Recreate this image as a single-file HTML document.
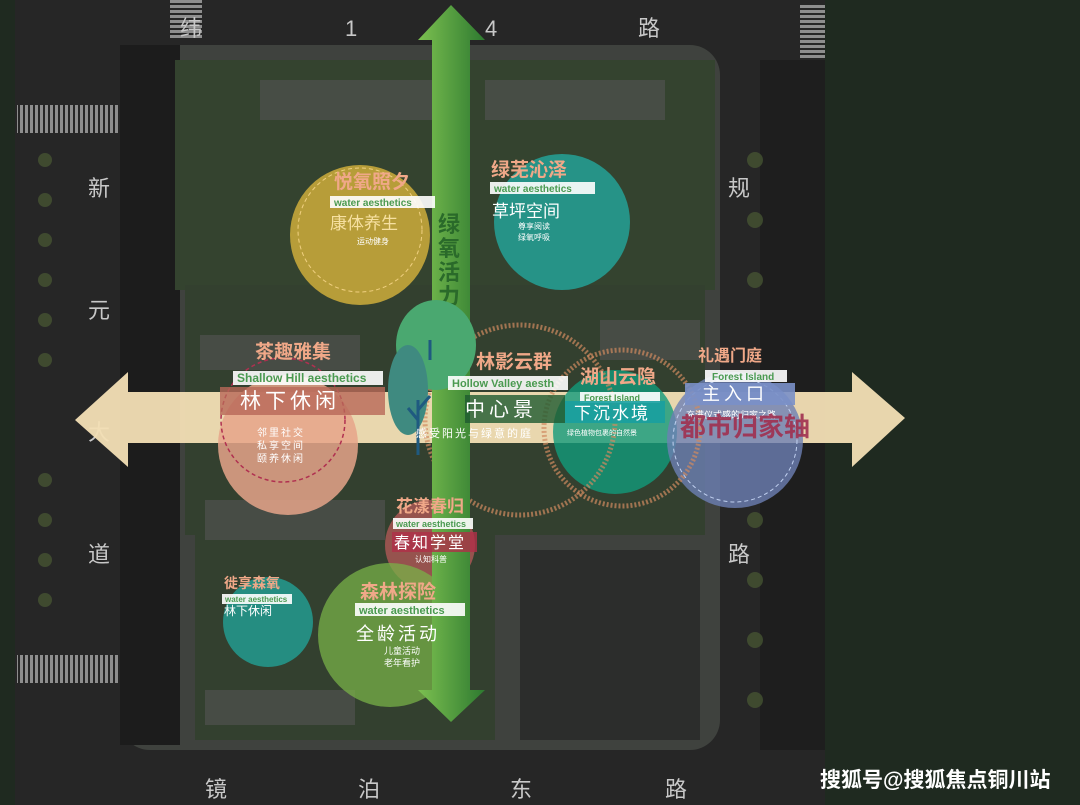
<!DOCTYPE html>
<html><head><meta charset="utf-8"><style>
html,body{margin:0;padding:0;background:#1f2a20;}
svg{display:block}
text{font-family:"Liberation Sans","Noto Sans CJK SC",sans-serif;}
</style></head><body>
<svg width="1080" height="805" viewBox="0 0 1080 805" xmlns="http://www.w3.org/2000/svg">
<defs>
<linearGradient id="ga" x1="0" y1="0" x2="1" y2="0"><stop offset="0" stop-color="#7cc050"/><stop offset="1" stop-color="#2e7a30"/></linearGradient>
<pattern id="cw" width="5" height="5" patternUnits="userSpaceOnUse"><rect width="3" height="5" fill="#bbb"/></pattern>
<pattern id="cwh" width="5" height="5" patternUnits="userSpaceOnUse"><rect width="5" height="3" fill="#bbb"/></pattern>
</defs>
<rect width="1080" height="805" fill="#1f2a20"/>
<rect x="15" y="0" width="810" height="805" fill="#262626"/>
<!-- crosswalks -->
<rect x="170" y="0" width="32" height="40" fill="url(#cwh)" opacity=".7"/>
<rect x="800" y="5" width="25" height="60" fill="url(#cwh)" opacity=".7"/>
<rect x="17" y="105" width="102" height="28" fill="url(#cw)" opacity=".7"/>
<rect x="17" y="655" width="102" height="28" fill="url(#cw)" opacity=".7"/>
<!-- site -->
<rect x="120" y="45" width="600" height="705" rx="30" fill="#3f423e"/>
<rect x="120" y="45" width="60" height="700" fill="#1c1c1c"/>
<rect x="175" y="60" width="540" height="230" fill="#34432f"/>
<rect x="185" y="285" width="520" height="250" fill="#33402f"/>
<rect x="195" y="530" width="300" height="210" fill="#33402f"/>
<rect x="520" y="550" width="180" height="190" fill="#2c2d2c"/>
<rect x="760" y="60" width="65" height="690" fill="#1e1e1e"/>
<g fill="#555" opacity=".6">
<rect x="260" y="80" width="175" height="40"/><rect x="485" y="80" width="180" height="40"/>
<rect x="200" y="335" width="160" height="35"/><rect x="205" y="500" width="180" height="40"/>
<rect x="205" y="690" width="150" height="35"/><rect x="600" y="320" width="100" height="40"/>
</g>
<!-- tree dots -->
<g fill="#4a5a34" opacity=".7">
<circle cx="45" cy="160" r="7"/><circle cx="45" cy="200" r="7"/><circle cx="45" cy="240" r="7"/><circle cx="45" cy="280" r="7"/><circle cx="45" cy="320" r="7"/><circle cx="45" cy="360" r="7"/><circle cx="45" cy="480" r="7"/><circle cx="45" cy="520" r="7"/><circle cx="45" cy="560" r="7"/><circle cx="45" cy="600" r="7"/>
<circle cx="755" cy="160" r="8"/><circle cx="755" cy="220" r="8"/><circle cx="755" cy="280" r="8"/><circle cx="755" cy="520" r="8"/><circle cx="755" cy="580" r="8"/><circle cx="755" cy="640" r="8"/><circle cx="755" cy="700" r="8"/>
</g>
<!-- road labels -->
<g fill="#c8c8c8" font-size="22">
<text x="180" y="36">纬</text><text x="345" y="36">1</text><text x="485" y="36">4</text><text x="638" y="36">路</text>
<text x="88" y="196">新</text><text x="88" y="318">元</text><text x="88" y="440">大</text><text x="88" y="562">道</text>
<text x="728" y="196">规</text><text x="728" y="562">路</text>
<text x="205" y="797">镜</text><text x="358" y="797">泊</text><text x="510" y="797">东</text><text x="665" y="797">路</text>
</g>
<!-- horizontal arrow -->
<polygon points="75,420 128,372 128,392 852,392 852,372 905,418 852,467 852,443 128,443 128,467" fill="#f3dfb5" opacity=".95"/>
<!-- circles -->
<circle cx="360" cy="235" r="70" fill="#d8b43c" opacity=".8"/>
<circle cx="562" cy="222" r="68" fill="#23a89e" opacity=".8"/>
<circle cx="288" cy="445" r="70" fill="#e6a48a" opacity=".85"/>
<circle cx="615" cy="432" r="62" fill="#129a7a" opacity=".8"/>
<circle cx="735" cy="440" r="68" fill="#6d80b4" opacity=".8"/>
<circle cx="430" cy="545" r="45" fill="#b85a5a" opacity=".75"/>
<circle cx="268" cy="622" r="45" fill="#22a096" opacity=".8"/>
<circle cx="390" cy="635" r="72" fill="#78b048" opacity=".75"/>
<circle cx="520" cy="420" r="95" fill="none" stroke="#d08a60" stroke-width="5" stroke-dasharray="2 2" opacity=".7"/>
<circle cx="622" cy="428" r="78" fill="none" stroke="#d08a60" stroke-width="5" stroke-dasharray="2 2" opacity=".7"/>
<circle cx="283" cy="420" r="62" fill="none" stroke="#b03050" stroke-width="1.5" stroke-dasharray="4 3"/>
<circle cx="360" cy="230" r="62" fill="none" stroke="#f0d080" stroke-width="1" stroke-dasharray="4 3"/>
<circle cx="735" cy="440" r="62" fill="none" stroke="#c0d0f0" stroke-width="1" stroke-dasharray="4 3"/>
<!-- vertical arrow -->
<polygon points="451,5 485,40 470,40 470,690 485,690 451,722 418,690 432,690 432,40 418,40" fill="url(#ga)"/>
<text x="438" y="232" font-size="22" font-weight="bold" fill="#2a6a2a">绿</text>
<text x="438" y="256" font-size="22" font-weight="bold" fill="#2a6a2a">氧</text>
<text x="438" y="280" font-size="22" font-weight="bold" fill="#2a6a2a">活</text>
<text x="438" y="304" font-size="22" font-weight="bold" fill="#2a6a2a">力</text>
<text x="438" y="328" font-size="22" font-weight="bold" fill="#2a6a2a">轴</text>
<!-- tree -->
<ellipse cx="436" cy="345" rx="40" ry="45" fill="#4aa870"/>
<ellipse cx="408" cy="390" rx="20" ry="45" fill="#3f8a80"/>
<path d="M418 400 V455 M418 420 l-10 -12 M418 410 l12 -14 M430 360 v-20" stroke="#1f5a80" stroke-width="3" fill="none"/>
<!-- labels -->
<g font-size="19" fill="#f0a888" font-weight="bold">
<text x="334" y="188">悦氧照夕</text>
<text x="491" y="176">绿芜沁泽</text>
<text x="255" y="358">茶趣雅集</text>
<text x="476" y="368">林影云群</text>
<text x="580" y="383">湖山云隐</text>
<text x="698" y="361" font-size="16">礼遇门庭</text>
<text x="396" y="512" font-size="17">花漾春归</text>
<text x="360" y="598">森林探险</text>
<text x="224" y="588" font-size="14">徙享森氧</text>
</g>
<g font-size="10" font-weight="bold" fill="#4a9a50">
<rect x="330" y="196" width="105" height="12" fill="#fff" opacity=".9"/><text x="334" y="206">water aesthetics</text>
<rect x="490" y="182" width="105" height="12" fill="#fff" opacity=".9"/><text x="494" y="192">water aesthetics</text>
<rect x="233" y="371" width="150" height="14" fill="#fff" opacity=".9"/><text x="237" y="382" font-size="12">Shallow Hill aesthetics</text>
<rect x="448" y="376" width="120" height="14" fill="#fff" opacity=".9"/><text x="452" y="387" font-size="11">Hollow Valley aesth</text>
<rect x="580" y="392" width="80" height="11" fill="#fff" opacity=".9"/><text x="584" y="401" font-size="9">Forest Island</text>
<rect x="705" y="370" width="82" height="12" fill="#fff" opacity=".9"/><text x="712" y="380">Forest Island</text>
<rect x="393" y="518" width="80" height="11" fill="#fff" opacity=".9"/><text x="396" y="527" font-size="9">water aesthetics</text>
<rect x="355" y="603" width="110" height="13" fill="#fff" opacity=".9"/><text x="359" y="614" font-size="11">water aesthetics</text>
<rect x="222" y="594" width="70" height="10" fill="#fff" opacity=".9"/><text x="225" y="602" font-size="8">water aesthetics</text>
</g>
<rect x="220" y="387" width="165" height="28" fill="#b86858" opacity=".8"/>
<rect x="465" y="395" width="100" height="28" fill="#1e5a30" opacity=".8"/>
<rect x="565" y="401" width="100" height="22" fill="#18a0a0" opacity=".9"/>
<rect x="685" y="383" width="110" height="22" fill="#7a90c8" opacity=".9"/>
<rect x="392" y="532" width="85" height="20" fill="#b03048" opacity=".8"/>
<g fill="#fff">
<text x="330" y="229" font-size="17" fill="#f6e0a0">康体养生</text>
<text x="357" y="244" font-size="8">运动健身</text>
<text x="492" y="217" font-size="17">草坪空间</text>
<text x="518" y="229" font-size="8">尊享阅读</text><text x="518" y="240" font-size="8">绿氧呼吸</text>
<text x="240" y="408" font-size="21" letter-spacing="4">林下休闲</text>
<text x="257" y="436" font-size="10" letter-spacing="2">邻里社交</text><text x="257" y="449" font-size="10" letter-spacing="2">私享空间</text><text x="257" y="462" font-size="10" letter-spacing="2">颐养休闲</text>
<text x="465" y="416" font-size="20" letter-spacing="4">中心景</text>
<text x="416" y="437" font-size="11" letter-spacing="2">感受阳光与绿意的庭</text>
<text x="574" y="419" font-size="17" letter-spacing="2">下沉水境</text>
<text x="567" y="435" font-size="7">绿色植物包裹的自然景</text>
<text x="702" y="400" font-size="18" letter-spacing="4">主入口</text>
<text x="686" y="418" font-size="9">充满仪式感的归家之路</text>
<text x="394" y="548" font-size="16" letter-spacing="2">春知学堂</text>
<text x="415" y="562" font-size="8">认知科普</text>
<text x="356" y="640" font-size="18" letter-spacing="3">全龄活动</text>
<text x="384" y="654" font-size="9">儿童活动</text><text x="384" y="666" font-size="9">老年看护</text>
<text x="224" y="615" font-size="12">林下休闲</text>
</g>
<text x="680" y="436" font-size="26" font-weight="bold" fill="#a03050" opacity=".9">都市归家轴</text>
<text x="820" y="787" font-size="21" fill="#fff" font-weight="bold">搜狐号@搜狐焦点铜川站</text>
</svg>
</body></html>
